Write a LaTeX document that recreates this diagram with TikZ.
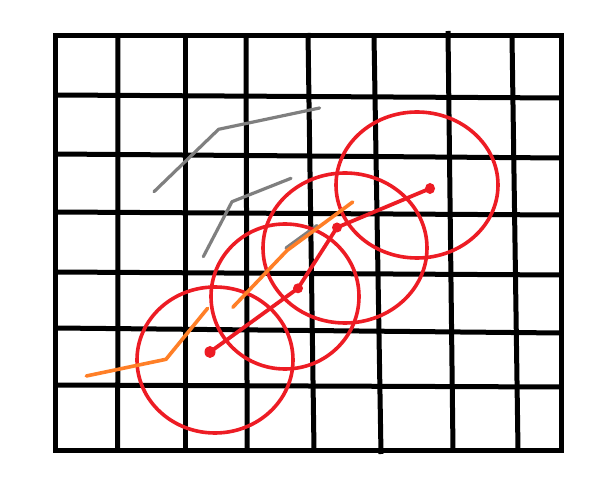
\documentclass[tikz,border=0pt]{standalone}
\definecolor{pred}{HTML}{ED1C24}
\definecolor{porange}{HTML}{FF7F27}
\definecolor{pgray}{HTML}{7F7F7F}
\begin{document}
\begin{tikzpicture}[x=1pt,y=-1pt,
  gridline/.style={line width=5pt,black},
  sketchgray/.style={line width=3.2pt,pgray,line cap=round,line join=round},
  sketchorange/.style={line width=3.6pt,porange,line cap=round,line join=round},
  ring/.style={line width=3.6pt,pred},
  redpath/.style={line width=3.8pt,pred,line cap=round,line join=round},
  blob/.style={fill=pred}]
\useasboundingbox (0,0) rectangle (592,494);
\fill[white] (0,0) rectangle (592,494);
% vertical grid lines (top x, bottom x)
\draw[gridline] (118,36) -- (117.7,450);
\draw[gridline] (185,36) -- (185,453);
\draw[gridline] (246,36) -- (247.2,450);
\draw[gridline] (308,33) -- (314,450);
\draw[gridline] (374,36) -- (381,454);
\draw[gridline] (448,31) -- (453,450);
\draw[gridline] (512,36) -- (518,450);
% horizontal grid lines (left y, right y)
\draw[gridline] (55,95) -- (561.7,98);
\draw[gridline] (55,154) -- (561.7,158);
\draw[gridline] (55,212) -- (561.7,215);
\draw[gridline] (55,272) -- (561.7,275);
\draw[gridline] (55,328) -- (561.7,333);
\draw[gridline] (55,385) -- (561.7,387);
% frame
\draw[gridline,line join=miter] (55,36) rectangle (561.7,450);
% gray polylines
\coordinate (g1a) at (154,191.7);
\coordinate (g1b) at (218.6,129.3);
\coordinate (g1c) at (319.6,108);
\draw[sketchgray] (g1a) -- (g1b) -- (g1c);
\coordinate (g2a) at (203.3,256.7);
\coordinate (g2b) at (232,201.7);
\coordinate (g2c) at (291,178.3);
\draw[sketchgray] (g2a) -- (g2b) -- (g2c);
\coordinate (g3a) at (286,248);
\coordinate (g3b) at (317,225.5);
\draw[sketchgray] (g3a) -- (g3b);
% red circles
\draw[ring] (215,360) ellipse [x radius=78, y radius=73];
\draw[ring] (285,296.5) ellipse [x radius=74, y radius=72.5];
\draw[ring] (345,248) ellipse [x radius=82, y radius=75];
\draw[ring] (417,185) ellipse [x radius=81, y radius=73];
% orange polylines
\coordinate (o1a) at (86.3,376);
\coordinate (o1b) at (166,359.3);
\coordinate (o1c) at (207.6,308.3);
\draw[sketchorange] (o1a) -- (o1b) -- (o1c);
\coordinate (o2a) at (232.8,307.3);
\coordinate (o2b) at (287,250.5);
\coordinate (o2c) at (352.7,202);
\draw[sketchorange] (o2a) -- (o2b) -- (o2c);
% red path with dots
\coordinate (r1) at (210,352);
\coordinate (r2) at (298,288.3);
\coordinate (r3) at (337,227.5);
\coordinate (r4) at (430,188.5);
\draw[redpath] (r1) -- (r2) -- (r3) -- (r4);
\fill[blob] (r1) ellipse [x radius=5.5, y radius=6];
\fill[blob] (r2) ellipse [x radius=5, y radius=5];
\fill[blob] (r3) ellipse [x radius=5, y radius=5];
\fill[blob] (r4) ellipse [x radius=5, y radius=5.5];
\end{tikzpicture}
\end{document}
